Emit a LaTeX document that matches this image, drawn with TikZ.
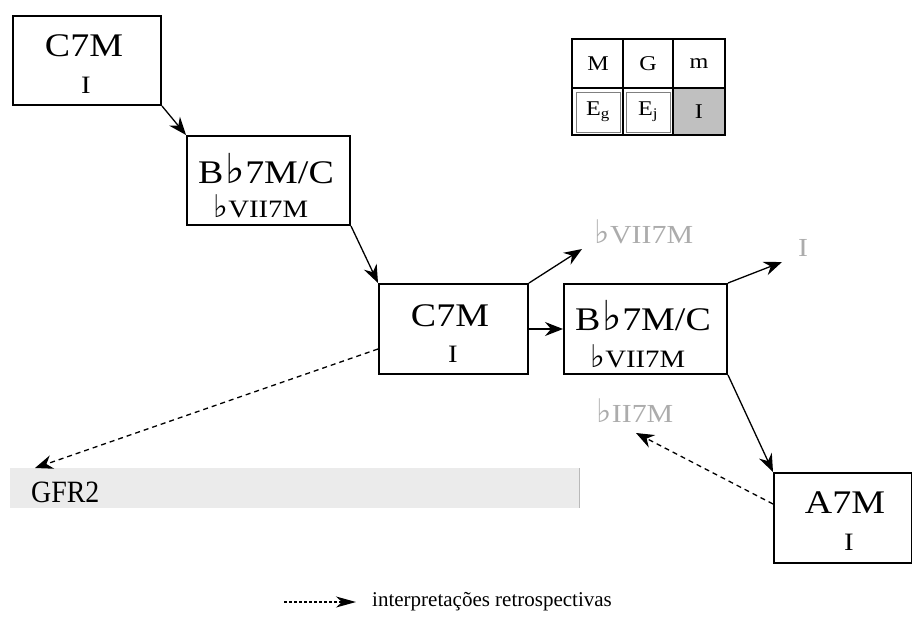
\documentclass[tikz,border=0pt]{standalone}
\usepackage{fontspec}
\setmainfont{Liberation Serif}[FakeStretch=1.15]
\newfontfamily\narrowfont{Liberation Serif}[FakeStretch=0.9]
\newfontfamily\plainfont{Liberation Serif}
\newfontfamily\symfont{DejaVu Sans}
\newcommand{\fl}{\kern0.05em{\symfont\scalebox{1.25}{♭}}\kern0.02em}
\usetikzlibrary{arrows.meta}
\definecolor{lbl}{RGB}{172,172,172}
\definecolor{barfill}{RGB}{235,235,235}
\definecolor{cellfill}{RGB}{192,192,192}
\tikzset{
  chordbox/.style={draw, line width=2pt, rectangle, inner sep=0pt, anchor=north west},
  big/.style={anchor=base, inner sep=0pt, font=\fontsize{33}{36}\selectfont},
  small/.style={anchor=base, inner sep=0pt, font=\fontsize{25}{28}\selectfont},
  ghost/.style={anchor=base, inner sep=0pt, text=lbl, font=\fontsize{26}{28}\selectfont},
  arr/.style={line width=1.3pt, -{Stealth[length=18pt,width=14pt,inset=6pt]}},
  darr/.style={arr, dash pattern=on 5pt off 4pt},
  cell/.style={anchor=center, inner sep=0pt, font=\fontsize{21}{24}\selectfont}
}
\begin{document}
\begin{tikzpicture}[x=1pt,y=-1pt]
\useasboundingbox (0,0) rectangle (912,624);
% boxes
\node[chordbox, minimum width=148pt, minimum height=89pt] (b1) at (12,15) {};
\node[chordbox, minimum width=163pt, minimum height=89pt] (b2) at (186,135) {};
\node[chordbox, minimum width=149pt, minimum height=90pt] (b3) at (378,283) {};
\node[chordbox, minimum width=163pt, minimum height=90pt] (b4) at (563,283) {};
\node[chordbox, minimum width=138pt, minimum height=90pt] (b5) at (773,472) {};
% box texts
\node[big] (t1a) at (84,56) {C7M};
\node[small] (t1b) at (86,93) {I};
\node[big] (t2a) at (266,183) {B\fl7M/C};
\node[small] (t2b) at (260,217) {\fl VII7M};
\node[big] (t3a) at (450,326) {C7M};
\node[small] (t3b) at (453,362) {I};
\node[big] (t4a) at (643,330) {B\fl7M/C};
\node[small] (t4b) at (637,367) {\fl VII7M};
\node[big] (t5a) at (845,513) {A7M};
\node[small] (t5b) at (849,550) {I};
% ghost labels
\node[ghost] (g1) at (643,243) {\fl VII7M};
\node[ghost] (g2) at (803,256) {I};
\node[ghost] (g3) at (634,422) {\fl II7M};
% GFR2 bar
\node[anchor=north west, fill=barfill, minimum width=569pt, minimum height=40pt, inner sep=0pt] (bar) at (10,468) {};
\draw[line width=1pt, color={rgb,255:red,185;green,185;blue,185}] (bar.north east) -- (bar.south east);
\node[anchor=base west, inner sep=0pt, font=\narrowfont\fontsize{31}{34}\selectfont] (gfr) at (31,502) {GFR2};
% table
\fill[cellfill] (673,88) rectangle (725,135);
\draw[line width=0.8pt, color=gray] (576,92) rectangle (620,132);
\draw[line width=0.8pt, color=gray] (626,92) rectangle (670,132);
\draw[line width=1.6pt] (623,39) -- (623,135) (673,39) -- (673,135) (572,88) -- (725,88);
\draw[line width=2.2pt] (572,39) rectangle (725,135);
\node[cell] (cM) at (598,64) {M};
\node[cell] (cG) at (648,64) {G};
\node[cell] (cm) at (699,64) {m};
\node[cell] (cEg) at (598,112) {E\textsubscript{g}};
\node[cell] (cEj) at (648,112) {E\textsubscript{j}};
\node[cell] (cI) at (699,112) {I};
% free ends
\coordinate (e1) at (582,249);
\coordinate (e2) at (782,262);
\coordinate (e3) at (636,433);
% connectors
\draw[arr] (b1.south east) -- (b2.north west);
\draw[arr] (b2.south east) -- (b3.north west);
\draw[arr] (b3.north east) -- (e1);
\draw[arr] (b3.east) -- (b4.west);
\draw[arr] (b4.north east) -- (e2);
\draw[arr] (b4.south east) -- (b5.north west);
\draw[darr] ([yshift=14pt]b5.west) -- (e3);
\draw[darr] ([yshift=-20pt]b3.west) -- ([xshift=25pt]bar.north west);
% legend
\coordinate (ls) at (284,602);
\node[anchor=west, inner sep=0pt, font=\plainfont\fontsize{21}{24}\selectfont] (lt) at (372,602) {interpretações retrospectivas};
\draw[line width=1.2pt, dash pattern=on 3pt off 2pt, -{Stealth[length=20pt,width=11pt,inset=6pt]}] (ls) -- ([xshift=-16pt]lt.west);
\end{tikzpicture}
\end{document}
